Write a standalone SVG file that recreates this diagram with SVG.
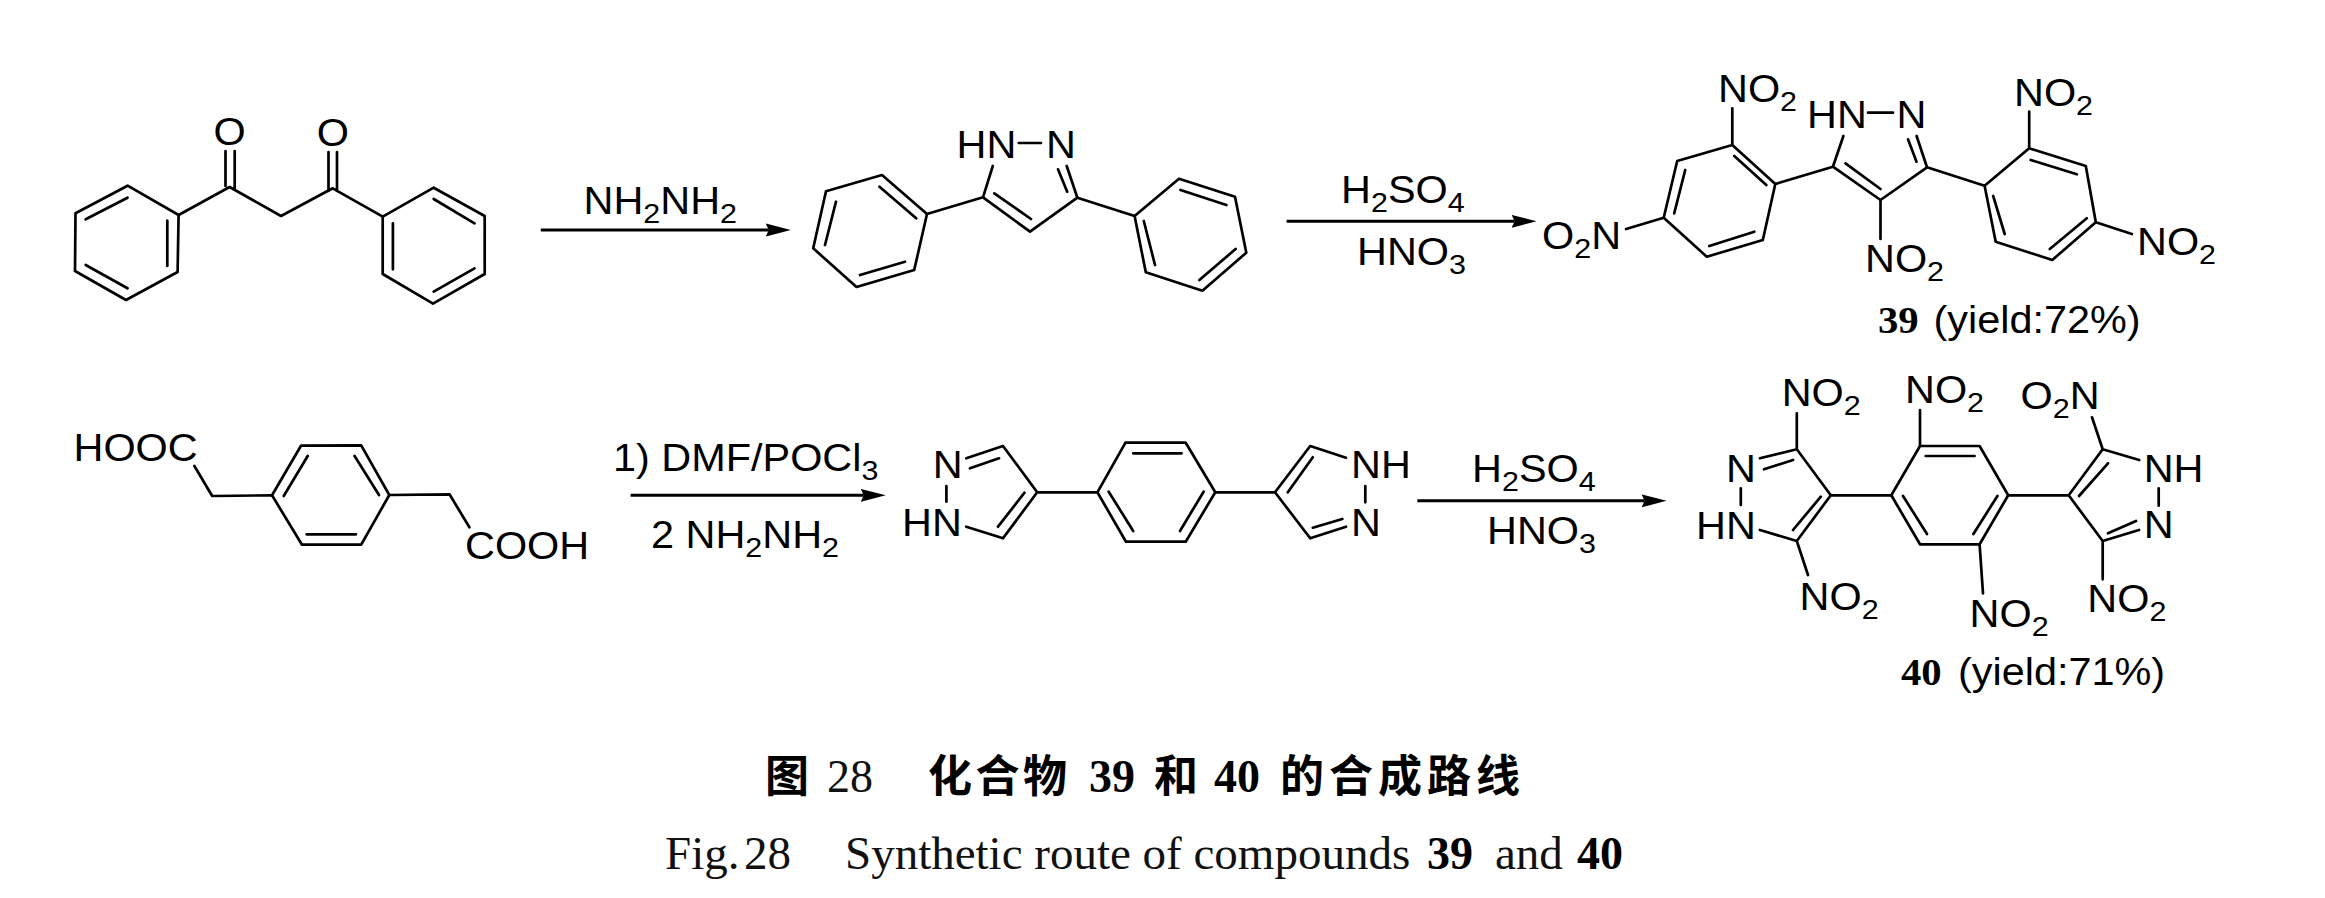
<svg xmlns="http://www.w3.org/2000/svg" width="2325" height="898" viewBox="0 0 2325 898">
<style>
.b{fill:none;stroke:#000;stroke-width:2.7;stroke-linejoin:round;stroke-linecap:round}
.l{font-family:"Liberation Sans",Arial,sans-serif;font-size:38px;fill:#000}
.s{font-size:28px}
.n{font-family:"Liberation Serif","Times New Roman",serif;font-size:37px;font-weight:700;fill:#000}
.a{fill:none;stroke:#000;stroke-width:3}
.zh{font-family:"Noto Sans CJK SC",sans-serif;font-size:44px;font-weight:700;fill:#000}
.cb{font-family:"Liberation Serif",serif;font-size:46px;font-weight:700;fill:#000}
.cr{font-family:"Liberation Serif",serif;font-size:46px;fill:#111}
.en{font-family:"Liberation Serif",serif;font-size:47px;fill:#111}
</style>
<defs>
<marker id="ah" markerUnits="userSpaceOnUse" markerWidth="25" markerHeight="14" viewBox="0 0 25 14" refX="3" refY="7" orient="auto"><path d="M0,0.5L25,7L0,13.5L3,7Z" fill="#000"/></marker>
</defs>
<rect width="2325" height="898" fill="#fff"/>
<g id="connectors">
<line class="a" x1="540.8" y1="230" x2="768.8" y2="230" marker-end="url(#ah)"/>
<line class="a" x1="1286.6" y1="221.3" x2="1514.6" y2="221.3" marker-end="url(#ah)"/>
<line class="a" x1="630.6" y1="495.3" x2="863.7" y2="495.3" marker-end="url(#ah)"/>
<line class="a" x1="1417.3" y1="500.8" x2="1644.6" y2="500.8" marker-end="url(#ah)"/>
</g>
<g id="diketone">
<path class="b" d="M127.6,185.7L178.6,215L177.6,272L126,300L75,271L75.5,213.3ZM127.5,197.7L85.7,219.3M167.3,220.7L167.3,266M85.7,265L127.5,288.3"/>
<path class="b" d="M178.6,215L229.6,187L281,216L332.7,188.3L382.7,216.7M225.5,151L225.5,186M234.7,151L234.7,190M328.5,152L328.5,191M337,152L337,191"/>
<path class="b" d="M382.7,216.7L433.7,187.7L484.7,216L484.7,274L433,303.7L382.7,274ZM433.7,199L474.5,223.3M392.9,223.3L392.9,269.3M474.5,268.3L433.7,291.7"/>
<text class="l" transform="translate(213.5 145) scale(1.09 1)">O</text>
<text class="l" transform="translate(316.7 145.5) scale(1.09 1)">O</text>
</g>
<g id="reagent-1"><text class="l" transform="translate(583.5 214.3) scale(1.09 1)">NH<tspan class="s" dy="9">2</tspan><tspan dy="-9">NH</tspan><tspan class="s" dy="9">2</tspan></text></g>
<g id="diphenylpyrazole">
<path class="b" d="M992.8,166L983,197.3L1030,231.7L1077.4,197.7L1066.7,166M994.3,193.3L1031,219M1058,169.3L1067.2,191.7M1018.8,143L1041,143"/>
<path class="b" d="M927,214L882,175L826,191.3L813.2,248.3L856.5,287L914.2,270ZM879.5,186.7L916.2,218.3M836,201.7L825,245M860,275L905,261.7M927,214L983,197.3"/>
<path class="b" d="M1134.6,216L1179,178.7L1235,196.7L1246.3,252.7L1202.4,290.7L1145.8,272.3ZM1180.5,190L1226.4,205M1143.8,221L1155,265M1199.4,280L1235.6,249M1077.4,197.7L1134.6,216"/>
<text class="l" transform="translate(956.5 158.3) scale(1.09 1)">HN</text>
<text class="l" transform="translate(1046 158.3) scale(1.09 1)">N</text>
</g>
<g id="reagent-2">
<text class="l" transform="translate(1341 203.3) scale(1.09 1)">H<tspan class="s" dy="9">2</tspan><tspan dy="-9">SO</tspan><tspan class="s" dy="9">4</tspan></text>
<text class="l" transform="translate(1357 265) scale(1.09 1)">HNO<tspan class="s" dy="9">3</tspan></text>
</g>
<g id="compound-39">
<path class="b" d="M1843.4,136L1832.9,166.7L1880.5,200L1927,167.3L1916.6,136M1845.5,163.3L1880.5,189M1908,139.3L1916.5,161.7M1868,112.7L1893,112.7M1880.5,200L1880.5,239"/>
<path class="b" d="M1775.3,184L1732.3,145L1677.2,161L1663.7,217.7L1706.8,256.7L1762.8,240ZM1734.3,156L1766.3,185M1685.2,170L1674.2,213.3M1709.3,246L1754.3,231.7M1775.3,184L1832.9,166.7M1732.3,145L1732.3,108.3M1663.7,217.7L1626.1,229"/>
<path class="b" d="M1984.6,185.7L2029.2,148.3L2085.8,166L2095.8,222.3L2052.3,260L1995.7,241.7ZM2030.7,160L2076.8,174.3M1993.2,196L2004.7,234M2049.8,249L2086.8,218.3M1927,167.3L1984.6,185.7M2029.2,148.3L2029.2,111.7M2095.8,222.3L2131.9,234"/>
<text class="l" transform="translate(1718 102.3) scale(1.09 1)">NO<tspan class="s" dy="9">2</tspan></text>
<text class="l" transform="translate(1807 127.7) scale(1.09 1)">HN</text>
<text class="l" transform="translate(1896.5 127.7) scale(1.09 1)">N</text>
<text class="l" transform="translate(2014 105.7) scale(1.09 1)">NO<tspan class="s" dy="9">2</tspan></text>
<text class="l" transform="translate(1542 249) scale(1.09 1)">O<tspan class="s" dy="9">2</tspan><tspan dy="-9">N</tspan></text>
<text class="l" transform="translate(1865 271.7) scale(1.09 1)">NO<tspan class="s" dy="9">2</tspan></text>
<text class="l" transform="translate(2137 255) scale(1.09 1)">NO<tspan class="s" dy="9">2</tspan></text>
<text class="n" transform="translate(1878 333.3) scale(1.1 1)">39</text>
<text class="l" transform="translate(1933.5 333.3) scale(1.09 1)">(yield:72%)</text>
</g>
<g id="phenylenediacetic-acid">
<path class="b" d="M272,495.3L301,445.7L361.2,445.3L389.3,495L361.2,544.7L302,544.7ZM307.7,456L283.7,496M354.6,456L379,495M306.6,534.3L356,534.3"/>
<path class="b" d="M194.4,466L212.2,496L272,495.3M389.3,495L449.5,494.3L469.4,527.3"/>
<text class="l" transform="translate(73.5 461) scale(1.09 1)">HOOC</text>
<text class="l" transform="translate(465 559) scale(1.09 1)">COOH</text>
</g>
<g id="reagent-3">
<text class="l" transform="translate(613 471) scale(1.09 1)">1) DMF/POCl<tspan class="s" dy="9">3</tspan></text>
<text class="l" transform="translate(651 547.7) scale(1.09 1)">2 NH<tspan class="s" dy="9">2</tspan><tspan dy="-9">NH</tspan><tspan class="s" dy="9">2</tspan></text>
</g>
<g id="bispyrazolylbenzene">
<path class="b" d="M946.4,486L946.4,501.7M966.3,458.3L1003,446L1037.2,492.3L1003,538.3L966.3,526.7M970,468.3L999,458.3M998,526.7L1024.5,492.7M1037.2,492.3L1097.4,492.3"/>
<path class="b" d="M1097.4,492.3L1125.5,442.7L1185.7,442.7L1215.3,492.3L1185.7,541.7L1126,541.7ZM1133.2,453.3L1181.6,453.3M1108.7,491.7L1133.2,531M1203.6,491.7L1180,531"/>
<path class="b" d="M1215.3,492.3L1275,492.3M1346,457.7L1310.2,446L1275,492.3L1310.2,538.3L1346,526.7M1287.8,492.3L1312.8,457.3M1312.8,527.7L1342.3,519M1365.3,486L1365.3,502.3"/>
<text class="l" transform="translate(932.7 478.3) scale(1.09 1)">N</text>
<text class="l" transform="translate(902 535.7) scale(1.09 1)">HN</text>
<text class="l" transform="translate(1351 478.3) scale(1.09 1)">NH</text>
<text class="l" transform="translate(1351 535.7) scale(1.09 1)">N</text>
</g>
<g id="reagent-4">
<text class="l" transform="translate(1472 482.3) scale(1.09 1)">H<tspan class="s" dy="9">2</tspan><tspan dy="-9">SO</tspan><tspan class="s" dy="9">4</tspan></text>
<text class="l" transform="translate(1487 544.3) scale(1.09 1)">HNO<tspan class="s" dy="9">3</tspan></text>
</g>
<g id="compound-40">
<path class="b" d="M1740.8,488.3L1740.8,505M1759.9,458.3L1796.8,449.3L1830.8,495.3L1796.8,541L1759.9,530M1764,469.3L1793,460M1820.8,496.7L1793,530M1796.8,449.3L1796.8,413.3M1796.8,541L1808,575M1830.8,495.3L1891.3,495.3"/>
<path class="b" d="M1891.3,495.3L1920,446L1979.6,446L2008.2,495.3L1979.6,544.3L1920,544.3ZM1925.7,456L1974.6,456M1903,496L1927,534M1997.4,496L1973.4,534M1920,446L1920,410M1979.6,544.3L1983,593.3"/>
<path class="b" d="M2008.2,495.3L2068.7,495.3M2139.2,460L2102.7,449.3L2068.7,495.3L2102.7,541L2139,530M2079,496L2108,463.3M2108,533.3L2136,521M2158.7,488.3L2158.7,505.7M2092,417.3L2102.7,449.3M2102.7,541L2102.7,579.3"/>
<text class="l" transform="translate(1781.7 405.7) scale(1.09 1)">NO<tspan class="s" dy="9">2</tspan></text>
<text class="l" transform="translate(1726 481.7) scale(1.09 1)">N</text>
<text class="l" transform="translate(1696 539) scale(1.09 1)">HN</text>
<text class="l" transform="translate(1799.6 610) scale(1.09 1)">NO<tspan class="s" dy="9">2</tspan></text>
<text class="l" transform="translate(1905 402.7) scale(1.09 1)">NO<tspan class="s" dy="9">2</tspan></text>
<text class="l" transform="translate(1969.6 626.7) scale(1.09 1)">NO<tspan class="s" dy="9">2</tspan></text>
<text class="l" transform="translate(2020.5 409.3) scale(1.09 1)">O<tspan class="s" dy="9">2</tspan><tspan dy="-9">N</tspan></text>
<text class="l" transform="translate(2143.7 481.7) scale(1.09 1)">NH</text>
<text class="l" transform="translate(2143.7 538.3) scale(1.09 1)">N</text>
<text class="l" transform="translate(2087.3 612.3) scale(1.09 1)">NO<tspan class="s" dy="9">2</tspan></text>
<text class="n" transform="translate(1901 685) scale(1.1 1)">40</text>
<text class="l" transform="translate(1958 685) scale(1.09 1)">(yield:71%)</text>
</g>
<g id="caption-zh">
<text class="zh" x="765" y="792">图</text>
<text class="cr" x="827" y="792">28</text>
<text class="zh" x="928" y="792" letter-spacing="3.5">化合物</text>
<text class="cb" x="1089" y="792">39</text>
<text class="zh" x="1154" y="792">和</text>
<text class="cb" x="1214" y="792">40</text>
<text class="zh" x="1280" y="792" letter-spacing="5">的合成路线</text>
</g>
<g id="caption-en">
<text class="en" x="665" y="869.3">Fig.</text>
<text class="en" x="744" y="869.3">28</text>
<text class="en" x="845" y="869.3">Synthetic route of compounds</text>
<text class="cb" x="1427" y="869.3">39</text>
<text class="en" x="1495" y="869.3">and</text>
<text class="cb" x="1577" y="869.3">40</text>
</g>
</svg>
